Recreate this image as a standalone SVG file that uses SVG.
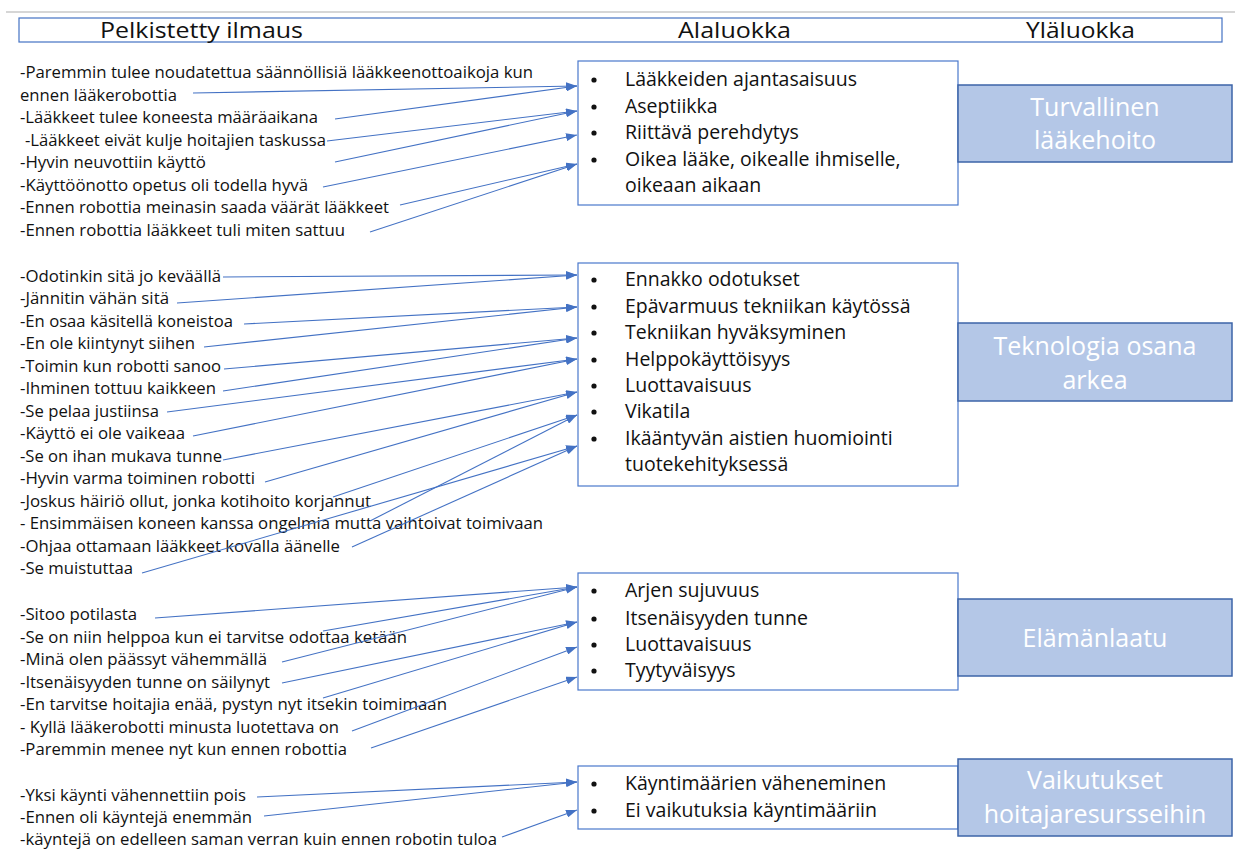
<svg xmlns="http://www.w3.org/2000/svg" width="1235" height="849" viewBox="0 0 1235 849">
  <style>
    .hdr { fill: #ffffff; stroke: #4472c4; stroke-width: 1.2; }
    .hdr-t { font-family: "Open Sans", "Noto Sans", sans-serif; font-size: 22px; fill: #111; }
    .quote { font-family: "Open Sans", "Noto Sans", sans-serif; font-size: 15.5px; fill: #111; }
    .sub { fill: #ffffff; stroke: #4a78cc; stroke-width: 1.2; }
    .sub-t { font-family: "Open Sans", "Noto Sans", sans-serif; font-size: 19.5px; fill: #111; }
    .dot { fill: #111; }
    .main { fill: #b4c7e7; stroke: #3d64a8; stroke-width: 1.5; }
    .main-t { font-family: "Open Sans", "Noto Sans", sans-serif; font-size: 25px; fill: #ffffff; text-anchor: middle; }
    .link { fill: none; stroke: #4472c4; stroke-width: 1.1; marker-end: url(#arrow); }
  </style>
  <defs>
    <marker id="arrow" markerUnits="userSpaceOnUse" markerWidth="11" markerHeight="8" refX="11" refY="4" orient="auto">
      <path d="M0,0 L11,4 L0,8 Z" fill="#4472c4"/>
    </marker>
  </defs>

  <rect width="1235" height="849" fill="#ffffff"/>
  <line x1="6" y1="12" x2="1235" y2="12" stroke="#c8c8c8" stroke-width="1.5"/>

  <!-- column headings -->
  <g id="header">
    <rect class="hdr" x="19" y="18" width="1203" height="24"/>
    <text class="hdr-t" x="100" y="38" textLength="203" lengthAdjust="spacingAndGlyphs">Pelkistetty ilmaus</text>
    <text class="hdr-t" x="678" y="38" textLength="113" lengthAdjust="spacingAndGlyphs">Alaluokka</text>
    <text class="hdr-t" x="1026" y="38" textLength="109" lengthAdjust="spacingAndGlyphs">Yläluokka</text>
  </g>

  <!-- reduced expressions -->
  <g id="quotes-medication" class="quote">
    <text x="20" y="78" textLength="513" lengthAdjust="spacingAndGlyphs">-Paremmin tulee noudatettua säännöllisiä lääkkeenottoaikoja kun</text>
    <text x="20" y="101" textLength="157" lengthAdjust="spacingAndGlyphs">ennen lääkerobottia</text>
    <text x="20" y="123" textLength="298" lengthAdjust="spacingAndGlyphs">-Lääkkeet tulee koneesta määräaikana</text>
    <text x="25" y="146" textLength="301" lengthAdjust="spacingAndGlyphs">-Lääkkeet eivät kulje hoitajien taskussa</text>
    <text x="20" y="168" textLength="186" lengthAdjust="spacingAndGlyphs">-Hyvin neuvottiin käyttö</text>
    <text x="20" y="191" textLength="288" lengthAdjust="spacingAndGlyphs">-Käyttöönotto opetus oli todella hyvä</text>
    <text x="20" y="213" textLength="369" lengthAdjust="spacingAndGlyphs">-Ennen robottia meinasin saada väärät lääkkeet</text>
    <text x="20" y="236" textLength="325" lengthAdjust="spacingAndGlyphs">-Ennen robottia lääkkeet tuli miten sattuu</text>
  </g>

  <g id="quotes-technology" class="quote">
    <text x="20" y="282" textLength="201" lengthAdjust="spacingAndGlyphs">-Odotinkin sitä jo keväällä</text>
    <text x="20" y="304" textLength="149" lengthAdjust="spacingAndGlyphs">-Jännitin vähän sitä</text>
    <text x="20" y="327" textLength="213" lengthAdjust="spacingAndGlyphs">-En osaa käsitellä koneistoa</text>
    <text x="20" y="349" textLength="175" lengthAdjust="spacingAndGlyphs">-En ole kiintynyt siihen</text>
    <text x="20" y="372" textLength="201" lengthAdjust="spacingAndGlyphs">-Toimin kun robotti sanoo</text>
    <text x="20" y="394" textLength="196" lengthAdjust="spacingAndGlyphs">-Ihminen tottuu kaikkeen</text>
    <text x="20" y="417" textLength="139" lengthAdjust="spacingAndGlyphs">-Se pelaa justiinsa</text>
    <text x="20" y="439" textLength="165" lengthAdjust="spacingAndGlyphs">-Käyttö ei ole vaikeaa</text>
    <text x="20" y="462" textLength="202" lengthAdjust="spacingAndGlyphs">-Se on ihan mukava tunne</text>
    <text x="20" y="484" textLength="235" lengthAdjust="spacingAndGlyphs">-Hyvin varma toiminen robotti</text>
    <text x="20" y="507" textLength="351" lengthAdjust="spacingAndGlyphs">-Joskus häiriö ollut, jonka kotihoito korjannut</text>
    <text x="20" y="529" textLength="523" lengthAdjust="spacingAndGlyphs">- Ensimmäisen koneen kanssa ongelmia mutta vaihtoivat toimivaan</text>
    <text x="20" y="552" textLength="320" lengthAdjust="spacingAndGlyphs">-Ohjaa ottamaan lääkkeet kovalla äänelle</text>
    <text x="20" y="574" textLength="113" lengthAdjust="spacingAndGlyphs">-Se muistuttaa</text>
  </g>

  <g id="quotes-quality" class="quote">
    <text x="20" y="620" textLength="117" lengthAdjust="spacingAndGlyphs">-Sitoo potilasta</text>
    <text x="20" y="643" textLength="387" lengthAdjust="spacingAndGlyphs">-Se on niin helppoa kun ei tarvitse odottaa ketään</text>
    <text x="20" y="665" textLength="247" lengthAdjust="spacingAndGlyphs">-Minä olen päässyt vähemmällä</text>
    <text x="20" y="688" textLength="250" lengthAdjust="spacingAndGlyphs">-Itsenäisyyden tunne on säilynyt</text>
    <text x="20" y="710" textLength="427" lengthAdjust="spacingAndGlyphs">-En tarvitse hoitajia enää, pystyn nyt itsekin toimimaan</text>
    <text x="20" y="733" textLength="319" lengthAdjust="spacingAndGlyphs">- Kyllä lääkerobotti minusta luotettava on</text>
    <text x="20" y="755" textLength="327" lengthAdjust="spacingAndGlyphs">-Paremmin menee nyt kun ennen robottia</text>
  </g>

  <g id="quotes-resources" class="quote">
    <text x="20" y="801" textLength="226" lengthAdjust="spacingAndGlyphs">-Yksi käynti vähennettiin pois</text>
    <text x="20" y="823" textLength="232" lengthAdjust="spacingAndGlyphs">-Ennen oli käyntejä enemmän</text>
    <text x="20" y="845" textLength="477" lengthAdjust="spacingAndGlyphs">-käyntejä on edelleen saman verran kuin ennen robotin tuloa</text>
  </g>

  <!-- connectors from expressions to subcategories -->
  <g id="connectors">
    <path class="link" d="M193,93 L577,86"/>
    <path class="link" d="M335,119 L577,86" stroke-width="1.6"/>
    <path class="link" d="M327,141 L577,111"/>
    <path class="link" d="M335,162 L577,111"/>
    <path class="link" d="M323,187 L577,135"/>
    <path class="link" d="M400,205 L577,164"/>
    <path class="link" d="M370,232 L577,164"/>

    <path class="link" d="M223,277 L577,275"/>
    <path class="link" d="M177,303 L577,275"/>
    <path class="link" d="M244,324 L577,307"/>
    <path class="link" d="M204,347 L577,307"/>
    <path class="link" d="M224,369 L577,338"/>
    <path class="link" d="M223,391 L577,338"/>
    <path class="link" d="M167,412 L577,359"/>
    <path class="link" d="M193,436 L577,359"/>
    <path class="link" d="M223,460 L577,392"/>
    <path class="link" d="M265,482 L577,392"/>
    <path class="link" d="M333,497 L577,415"/>
    <path class="link" d="M370,521 L577,415"/>
    <path class="link" d="M352,547 L577,446"/>
    <path class="link" d="M142,573 L577,446"/>

    <path class="link" d="M155,618 L577,587"/>
    <path class="link" d="M323,631 L577,587"/>
    <path class="link" d="M282,662 L577,587"/>
    <path class="link" d="M282,683 L577,622"/>
    <path class="link" d="M323,698 L577,622"/>
    <path class="link" d="M352,731 L577,647"/>
    <path class="link" d="M371,748 L577,677"/>

    <path class="link" d="M257,797 L577,782"/>
    <path class="link" d="M264,816 L577,782"/>
    <path class="link" d="M502,837 L577,810"/>
  </g>

  <!-- subcategories -->
  <g id="sub-medication">
    <rect class="sub" x="578" y="61" width="380" height="144"/>
    <circle class="dot" cx="594" cy="80" r="2.6"/>
    <circle class="dot" cx="594" cy="107" r="2.6"/>
    <circle class="dot" cx="594" cy="133" r="2.6"/>
    <circle class="dot" cx="594" cy="160" r="2.6"/>
    <text class="sub-t" x="625" y="86">Lääkkeiden ajantasaisuus</text>
    <text class="sub-t" x="625" y="113">Aseptiikka</text>
    <text class="sub-t" x="625" y="139">Riittävä perehdytys</text>
    <text class="sub-t" x="625" y="166">Oikea lääke, oikealle ihmiselle,</text>
    <text class="sub-t" x="625" y="192">oikeaan aikaan</text>
  </g>

  <g id="sub-technology">
    <rect class="sub" x="578" y="263" width="380" height="223"/>
    <circle class="dot" cx="594" cy="280" r="2.6"/>
    <circle class="dot" cx="594" cy="307" r="2.6"/>
    <circle class="dot" cx="594" cy="333" r="2.6"/>
    <circle class="dot" cx="594" cy="360" r="2.6"/>
    <circle class="dot" cx="594" cy="386" r="2.6"/>
    <circle class="dot" cx="594" cy="412" r="2.6"/>
    <circle class="dot" cx="594" cy="439" r="2.6"/>
    <text class="sub-t" x="625" y="286">Ennakko odotukset</text>
    <text class="sub-t" x="625" y="313">Epävarmuus tekniikan käytössä</text>
    <text class="sub-t" x="625" y="339">Tekniikan hyväksyminen</text>
    <text class="sub-t" x="625" y="366">Helppokäyttöisyys</text>
    <text class="sub-t" x="625" y="392">Luottavaisuus</text>
    <text class="sub-t" x="625" y="418">Vikatila</text>
    <text class="sub-t" x="625" y="445">Ikääntyvän aistien huomiointi</text>
    <text class="sub-t" x="625" y="471">tuotekehityksessä</text>
  </g>

  <g id="sub-quality">
    <rect class="sub" x="578" y="573" width="380" height="117"/>
    <circle class="dot" cx="594" cy="591" r="2.6"/>
    <circle class="dot" cx="594" cy="619" r="2.6"/>
    <circle class="dot" cx="594" cy="645" r="2.6"/>
    <circle class="dot" cx="594" cy="671" r="2.6"/>
    <text class="sub-t" x="625" y="597">Arjen sujuvuus</text>
    <text class="sub-t" x="625" y="625">Itsenäisyyden tunne</text>
    <text class="sub-t" x="625" y="651">Luottavaisuus</text>
    <text class="sub-t" x="625" y="677">Tyytyväisyys</text>
  </g>

  <g id="sub-resources">
    <rect class="sub" x="578" y="766" width="380" height="63"/>
    <circle class="dot" cx="594" cy="784" r="2.6"/>
    <circle class="dot" cx="594" cy="811" r="2.6"/>
    <text class="sub-t" x="625" y="790">Käyntimäärien väheneminen</text>
    <text class="sub-t" x="625" y="817">Ei vaikutuksia käyntimääriin</text>
  </g>

  <!-- main categories -->
  <g id="main-medication">
    <rect class="main" x="958" y="85" width="274" height="77"/>
    <text class="main-t" x="1095" y="116">Turvallinen</text>
    <text class="main-t" x="1095" y="149">lääkehoito</text>
  </g>

  <g id="main-technology">
    <rect class="main" x="958" y="323" width="274" height="78"/>
    <text class="main-t" x="1095" y="355">Teknologia osana</text>
    <text class="main-t" x="1095" y="389">arkea</text>
  </g>

  <g id="main-quality">
    <rect class="main" x="958" y="599" width="274" height="77"/>
    <text class="main-t" x="1095" y="647">Elämänlaatu</text>
  </g>

  <g id="main-resources">
    <rect class="main" x="958" y="759" width="274" height="77"/>
    <text class="main-t" x="1095" y="789">Vaikutukset</text>
    <text class="main-t" x="1095" y="823">hoitajaresursseihin</text>
  </g>
</svg>
